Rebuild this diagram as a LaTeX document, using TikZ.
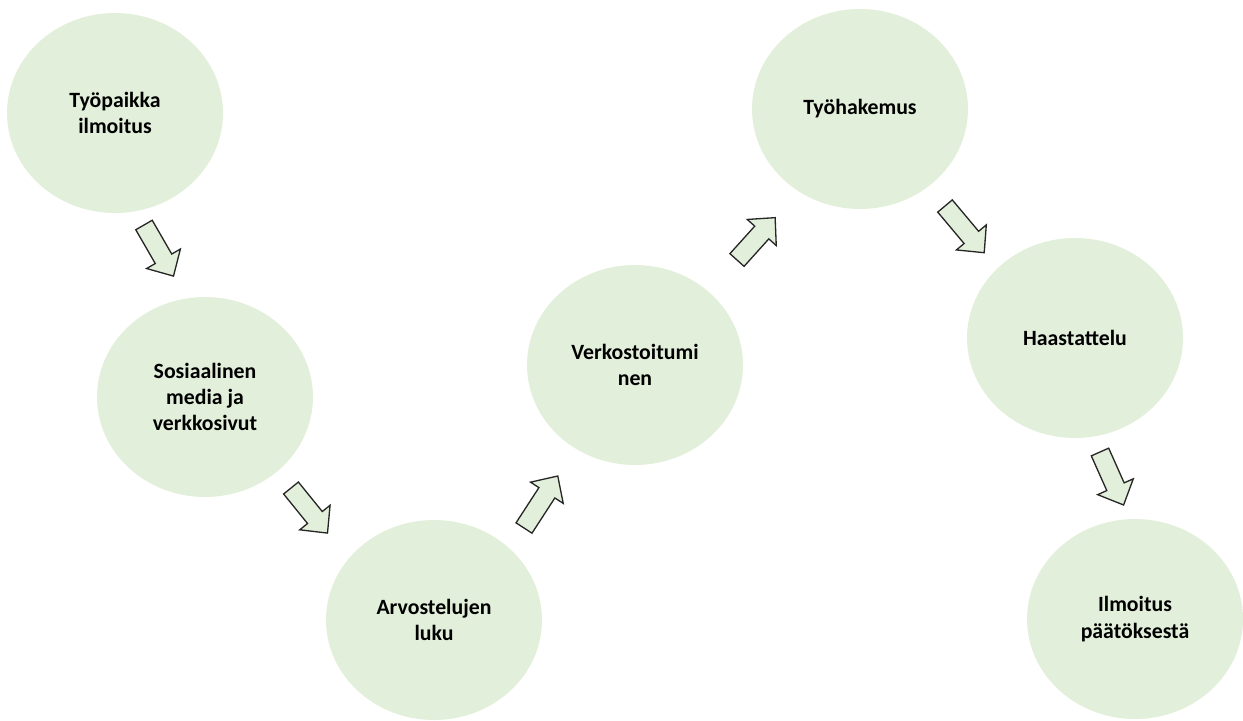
\documentclass[tikz,border=0pt]{standalone}
\usepackage{fontspec}
\setmainfont{Carlito}
\usetikzlibrary{shapes.geometric}
\definecolor{paleleaf}{HTML}{E2EFDA}
\tikzset{
  bubble/.style={ellipse, fill=paleleaf, draw=none, minimum width=216\pgfxunit, minimum height=200\pgfxunit,
    align=center, font=\fontsize{12.4}{15}\selectfont\bfseries, inner sep=0pt},
  blockarrow/.style={fill=paleleaf, draw=black!85, line width=0.75pt, line join=miter}
}
\newlength\pgfxunit
\setlength\pgfxunit{0.02cm}
\begin{document}
\begin{tikzpicture}[x=0.02cm, y=-0.02cm]
    \useasboundingbox (0,0) rectangle (1243,720);

    \node[bubble] (tyopaikka) at (115,113) {Työpaikka\\ilmoitus};
    \node[bubble] (some) at (205,397) {Sosiaalinen\\media ja\\verkkosivut};
    \node[bubble] (arvostelut) at (434,620) {Arvostelujen\\luku};
    \node[bubble] (verkosto) at (635,365) {Verkostoitumi\\nen};
    \node[bubble] (hakemus) at (860,109) {Työhakemus};
    \node[bubble] (haastattelu) at (1075,338) {Haastattelu};
    \node[bubble] (paatos) at (1135,619) {Ilmoitus\\päätöksestä};

	% block arrows: tail centre, angle, length
	\foreach \x/\y/\a/\l in {144/225/-60/59, 291/488/-51/58, 524/528/57/62, 737/260/48/57, 945/206/-50/61, 1100/452/-66/58} {
		\draw[blockarrow, shift={(\x,\y)}, rotate=\a, x=0.02cm, y=0.02cm]
		    (0,-9.5) -- (\l-20,-9.5) -- (\l-20,-19.5) -- (\l,0) -- (\l-20,19.5) -- (\l-20,9.5) -- (0,9.5) -- cycle;
	}
\end{tikzpicture}
\end{document}
